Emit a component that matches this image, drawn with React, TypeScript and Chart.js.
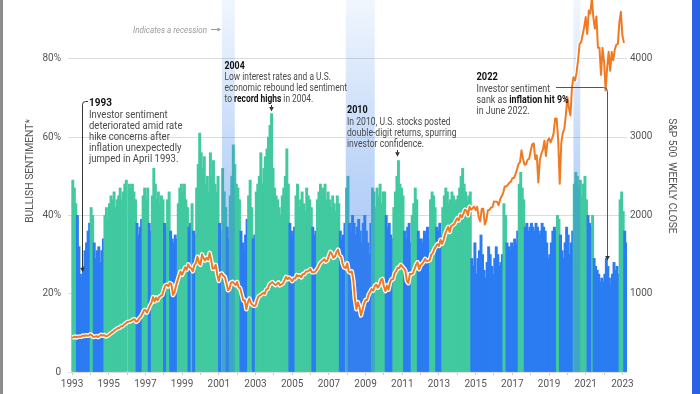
import React, { useEffect, useRef } from "react";
import { Chart, registerables } from "chart.js";

Chart.register(...registerables);

// ---------------- DATA ----------------
const FIRST_YEAR = 1993;

// x-axis tick years (labels shown on odd years only)
const yearTicks = [
  1993, 1994, 1995, 1996, 1997, 1998, 1999, 2000, 2001, 2002, 2003, 2004, 2005, 2006, 2007, 2008,
  2009, 2010, 2011, 2012, 2013, 2014, 2015, 2016, 2017, 2018, 2019, 2020, 2021, 2022, 2023,
];
const labelYears = [1993, 1995, 1997, 1999, 2001, 2003, 2005, 2007, 2009, 2011, 2013, 2015, 2017, 2019, 2021, 2023];
const sentimentTicks = [0, 20, 40, 60, 80];
const spTicks = [1000, 2000, 3000, 4000];

// Bullish sentiment (%), one value per month from Jan 1993
const bullish: (number | null)[] = [
  49, 47, 43, 40, 32, 25, 24, 27, 31, 33, 36, 38, // 1993
  42, 40, 33, 29, 31, 32, 28, 31, 34, 40, 42, 39, // 1994
  43, 45, 44, 46, 42, 44, 45, 47, 44, 46, 48, 49, // 1995
  null, 48, 47, 48, 46, 44, 38, 35, 37, 39, 45, 47, // 1996
  44, 47, 38, 36, 45, 52, 48, 44, 46, 43, 45, 44, // 1997
  38, 37, 44, 46, 36, 34, 33, 35, 34, 43, 47, 48, // 1998
  46, 48, 44, 42, 37, 38, 43, 36, 35, 47, 53, 61, // 1999
  56, 52, 55, 48, 50, 46, 56, 50, 54, 48, 46, 50, // 2000
  38, 36, 52, 46, 42, 37, 34, 45, 50, 58, 53, 48, // 2001
  47, 44, 36, 33, 31, 35, 39, 45, 49, 42, 34, 35, // 2002
  46, 48, 50, 56, 48, 52, 55, 57, 60, 63, 66, 52, // 2003
  47, 45, 44, 42, 40, 45, 47, 50, 57, 48, 38, 36, // 2004
  35, 37, 45, 48, 42, 44, 46, 43, 41, 47, 45, 44, // 2005
  42, 37, 35, 36, 44, 46, 48, 45, 47, 48, 44, 46, // 2006
  44, 42, 45, 43, 41, 45, 43, 36, 34, 35, 38, 47, // 2007
  50, 38, 36, 40, 38, 35, 37, 39, 36, 33, 38, 40, // 2008
  36, 33, 30, 38, 47, 46, 42, 47, 45, 48, 43, 46, // 2009
  46, 40, 37, 38, 35, 34, 42, 46, 50, 54, 48, 47, // 2010
  45, 36, 34, 37, 38, 33, 40, 43, 47, 44, 36, 34, // 2011
  34, 33, 36, 35, 37, 34, 44, 46, 45, 42, 37, 36, // 2012
  38, 35, 42, 45, 47, 46, 43, 44, 46, 45, 43, 44, // 2013
  45, 47, 50, 52, 48, 46, 44, 45, 46, 29, 27, 33, // 2014
  25, 29, 31, 35, 30, 26, 24, 28, 32, 30, 27, 25, // 2015
  29, 32, 30, 27, 28, 30, 43, 40, 33, 32, 31, 33, // 2016
  32, 34, 33, 36, 48, 51, 47, 44, 37, 38, 36, 37, // 2017
  38, 37, 36, 38, 37, 35, 36, 38, 37, 36, 33, 29, // 2018
  30, 33, 36, 37, 36, 40, 39, 35, 31, 29, 33, 37, // 2019
  35, 30, 33, 36, 48, 51, 50, 47, 49, 45, 48, 50, // 2020
  44, 40, 38, 37, 40, 29, 27, 26, 25, 23, 24, 23, // 2021
  25, 29, 27, 24, 22, 25, 28, 26, 27, 25, 44, 46, // 2022
  41, 36, 33, // 2023
];

// G = above-average (teal), B = below-average (blue), per month
const phase = [
  "GGGBBBBBBBBB", // 1993
  "GGBBBBBBBGGG", // 1994
  "GGGGGGGGGGGG", // 1995
  "GGGGGGBBBBGG", // 1996
  "GGBBGGGGGGGG", // 1997
  "BBGGBBBBBGGG", // 1998
  "GGGGBBGBBGGG", // 1999
  "GGGGGGGGGGGG", // 2000
  "BBGGGBBGGGGG", // 2001
  "GGBBBBBGGGBB", // 2002
  "GGGGGGGGGGGG", // 2003
  "GGGGGGGGGGBB", // 2004
  "BBGGGGGGGGGG", // 2005
  "GBBBGGGGGGGG", // 2006
  "GGGGGGGBBBBG", // 2007
  "GBBBBBBBBBBB", // 2008
  "BBBBGGGGGGGG", // 2009
  "GBBBBBGGGGGG", // 2010
  "GBBBBBGGGGBB", // 2011
  "BBBBBBGGGGBB", // 2012
  "BBGGGGGGGGGG", // 2013
  "GGGGGGGGGBBB", // 2014
  "BBBBBBBBBBBB", // 2015
  "BBBBBBGGBBBB", // 2016
  "BBBBGGGGBBBB", // 2017
  "BBBBBBBBBBBB", // 2018
  "BBBBBGGBBBBB", // 2019
  "BBBBGGGGGGGG", // 2020
  "GBBBGBBBBBBB", // 2021
  "BBBBBBBBBBGG", // 2022
  "GBB", // 2023
].join("");

// S&P 500 close, read along the axis month by month from Jan 1993
const sp500Close = [
  439, 443, 452, 440, 450, 451, 448, 464, 459, 468, 462, 466,
  481, 467, 446, 451, 457, 444, 458, 475, 463, 472, 454, 459,
  470, 487, 501, 515, 533, 545, 562, 562, 584, 582, 605, 616,
  636, 640, 646, 654, 669, 671, 640, 652, 687, 705, 741,
  786, 791, 757, 801, 848, 885, 954, 899, 947, 915, 955, 970,
  980, 1049, 1102, 1112, 1091, 1134, 1121, 980, 1017, 1099, 1164, 1229,
  1280, 1238, 1286, 1335, 1302, 1373, 1329, 1320, 1283, 1363, 1389, 1469,
  1394, 1366, 1499, 1452, 1421, 1455, 1431, 1518, 1429, 1315, 1320,
  1366, 1240, 1160, 1249, 1256, 1224, 1211, 1134, 1041, 1060, 1139, 1148,
  1130, 1107, 1147, 1077, 1067, 990, 912, 916, 800, 886, 936, 880,
  856, 841, 848, 917, 964, 975, 990, 1008, 996, 1051, 1058, 1112,
  1131, 1145, 1126, 1107, 1121, 1141, 1104, 1115, 1130, 1174, 1212,
  1181, 1204, 1181, 1157, 1192, 1191, 1234, 1220, 1229, 1207, 1249, 1248,
  1280, 1281, 1295, 1311, 1270, 1270, 1277, 1304, 1336, 1378, 1401, 1418,
  1438, 1407, 1421, 1482, 1531, 1503, 1455, 1474, 1527, 1560, 1481, 1468,
  1379, 1331, 1323, 1386, 1280, 1267, 1283, 1166, 930, 800, 890,
  826, 720, 798, 873, 919, 919, 987, 1021, 1057, 1036, 1096, 1115,
  1074, 1104, 1169, 1187, 1089, 1031, 1102, 1049, 1141, 1183, 1181, 1258,
  1286, 1327, 1326, 1364, 1345, 1321, 1292, 1160, 1131, 1253, 1247, 1258,
  1312, 1366, 1398, 1310, 1362, 1379, 1407, 1441, 1412, 1416, 1426,
  1498, 1515, 1569, 1598, 1631, 1606, 1686, 1633, 1682, 1757, 1806, 1848,
  1783, 1859, 1872, 1884, 1924, 1960, 1931, 2003, 1972, 2018, 2068, 2059,
  1995, 2105, 2068, 2086, 2107, 2063, 2104, 1972, 1920, 2079, 2080,
  1880, 1932, 2060, 2065, 2097, 2099, 2174, 2171, 2168, 2126, 2199, 2239,
  2279, 2364, 2363, 2384, 2412, 2423, 2470, 2472, 2519, 2575, 2648, 2674,
  2824, 2714, 2641, 2648, 2705, 2718, 2816, 2902, 2914, 2711, 2760, 2416,
  2704, 2784, 2834, 2946, 2752, 2942, 2980, 2926, 2977, 3038, 3231,
  3226, 2954, 2400, 2912, 3044, 3100, 3271, 3500, 3363, 3270, 3622, 3756,
  3714, 3811, 3973, 4181, 4204, 4298, 4395, 4523, 4308, 4605, 4567, 4766,
  4516, 4374, 4530, 4132, 4132, 3785, 4130, 3955, 3586, 3872, 4080, 3840,
  4077, 3970, 4109, 4169, 4180, 4450, 4589, 4288, 4194,
];

// Recession periods (axis years)
const recessionStart = [2001.17, 2007.92, 2020.33];
const recessionEnd = [2001.87, 2009.5, 2020.7];

// ---------------- STYLE ----------------
const TEAL = "#41c9a0";
const BLUE = "#2b7cf2";
const ORANGE = "#f07a23";
const FONT = "Roboto";

type Part = [string, boolean];
const note1993: Part[][] = [
  [["Investor sentiment", false]],
  [["deteriorated amid rate", false]],
  [["hike concerns after", false]],
  [["inflation unexpectedly", false]],
  [["jumped in April 1993.", false]],
];
const note2004: Part[][] = [
  [["Low interest rates and a U.S.", false]],
  [["economic rebound led sentiment", false]],
  [["to ", false], ["record highs", true], [" in 2004.", false]],
];
const note2010: Part[][] = [
  [["In 2010, U.S. stocks posted", false]],
  [["double-digit returns, spurring", false]],
  [["investor confidence.", false]],
];
const note2022: Part[][] = [
  [["Investor sentiment", false]],
  [["sank as ", false], ["inflation hit 9%", true]],
  [["in June 2022.", false]],
];

function drawNote(
  ctx: CanvasRenderingContext2D,
  head: string,
  x: number,
  yHead: number,
  yBody: number,
  lines: Part[][],
  lh: number,
  sx: number
) {
  ctx.save();
  ctx.translate(x, 0);
  ctx.scale(sx, 1);
  ctx.textAlign = "left";
  ctx.textBaseline = "alphabetic";
  ctx.font = `bold 10.5px ${FONT}`;
  ctx.fillStyle = "#111";
  ctx.fillText(head, 0, yHead);
  lines.forEach((parts, i) => {
    let cx = 0;
    for (const [t, b] of parts) {
      ctx.font = `${b ? "bold " : ""}10px ${FONT}`;
      ctx.fillStyle = b ? "#111" : "#4a4a4a";
      ctx.fillText(t, cx, yBody + i * lh);
      cx += ctx.measureText(t).width;
    }
  });
  ctx.restore();
}

function arrowHead(ctx: CanvasRenderingContext2D, x: number, y: number) {
  ctx.beginPath();
  ctx.moveTo(x, y);
  ctx.lineTo(x - 2.3, y - 4.5);
  ctx.lineTo(x + 2.3, y - 4.5);
  ctx.closePath();
  ctx.fill();
}

const recessionPlugin = {
  id: "recessions",
  afterDatasetDraw(chart: any, args: any) {
    if (args.index !== 0) return;
    const { ctx, chartArea } = chart;
    const xs = chart.scales.x;
    const g = ctx.createLinearGradient(0, chartArea.top, 0, chartArea.bottom);
    g.addColorStop(0, "rgba(60,130,235,0.07)");
    g.addColorStop(0.5, "rgba(60,130,235,0.36)");
    g.addColorStop(1, "rgba(60,130,235,0.5)");
    ctx.save();
    ctx.fillStyle = g;
    recessionStart.forEach((s, i) => {
      const x1 = xs.getPixelForValue(s);
      const x2 = xs.getPixelForValue(recessionEnd[i]);
      ctx.fillRect(x1, chartArea.top, x2 - x1, chartArea.bottom - chartArea.top);
    });
    ctx.restore();
  },
};

const annotationPlugin = {
  id: "annotations",
  afterDraw(chart: any) {
    const { ctx } = chart;
    const xs = chart.scales.x;
    const ys = chart.scales.y;
    const px = (yr: number) => xs.getPixelForValue(yr);
    const py = (v: number) => ys.getPixelForValue(v);
    ctx.save();

    // axis titles
    ctx.font = `10.3px ${FONT}`;
    ctx.fillStyle = "#555";
    ctx.textAlign = "center";
    ctx.textBaseline = "middle";
    ctx.save();
    ctx.translate(30, 171);
    ctx.rotate(-Math.PI / 2);
    ctx.fillText("BULLISH SENTIMENT*", 0, 0);
    ctx.restore();
    ctx.save();
    ctx.translate(672, 176);
    ctx.rotate(Math.PI / 2);
    ctx.fillText("S&P 500  WEEKLY CLOSE", 0, 0);
    ctx.restore();

    // recession key
    ctx.save();
    ctx.translate(207, 0);
    ctx.scale(0.88, 1);
    ctx.textAlign = "right";
    ctx.textBaseline = "alphabetic";
    ctx.font = `italic 9.2px ${FONT}`;
    ctx.fillStyle = "#9a9a9a";
    ctx.fillText("Indicates a recession", 0, 32.5);
    ctx.restore();
    ctx.strokeStyle = "#9a9a9a";
    ctx.lineWidth = 1;
    ctx.beginPath();
    ctx.moveTo(211, 29.5);
    ctx.lineTo(219, 29.5);
    ctx.stroke();
    ctx.beginPath();
    ctx.moveTo(221, 29.5);
    ctx.lineTo(217.5, 27.5);
    ctx.lineTo(217.5, 31.5);
    ctx.closePath();
    ctx.fillStyle = "#9a9a9a";
    ctx.fill();

    ctx.lineWidth = 1;

    // 1993
    drawNote(ctx, "1993", 89, 106, 117.5, note1993, 11, 0.95);
    {
      const tx = Math.round(px(1993.55)) + 0.5;
      const ty = py(25.5);
      ctx.strokeStyle = "#333";
      ctx.beginPath();
      ctx.moveTo(88, 101.5);
      ctx.lineTo(tx + 3, 101.5);
      ctx.quadraticCurveTo(tx, 101.5, tx, 104.5);
      ctx.lineTo(tx, ty - 4);
      ctx.stroke();
      ctx.fillStyle = "#333";
      arrowHead(ctx, tx, ty);
    }

    // 2004
    drawNote(ctx, "2004", 224.5, 69, 79.5, note2004, 11, 0.84);
    {
      const tx = Math.round(px(2003.87)) + 0.5;
      const ty = py(66.5);
      ctx.strokeStyle = "#333";
      ctx.beginPath();
      ctx.moveTo(tx, 105);
      ctx.lineTo(tx, ty - 4);
      ctx.stroke();
      ctx.fillStyle = "#333";
      arrowHead(ctx, tx, ty);
    }

    // 2010
    drawNote(ctx, "2010", 347, 112.5, 125, note2010, 11, 0.86);
    {
      const tx = Math.round(px(2010.7)) + 0.5;
      const ty = py(55);
      ctx.strokeStyle = "#333";
      ctx.beginPath();
      ctx.moveTo(tx, 150);
      ctx.lineTo(tx, ty - 4);
      ctx.stroke();
      ctx.fillStyle = "#333";
      arrowHead(ctx, tx, ty);
    }

    // 2022
    drawNote(ctx, "2022", 476.5, 80, 91.5, note2022, 11, 0.89);
    {
      const tx = Math.round(px(2022.17)) + 0.5;
      const ty = py(28.5);
      ctx.strokeStyle = "#555";
      ctx.beginPath();
      ctx.moveTo(556, 87.5);
      ctx.lineTo(tx - 4, 87.5);
      ctx.quadraticCurveTo(tx, 87.5, tx, 91.5);
      ctx.lineTo(tx, ty - 4);
      ctx.stroke();
      ctx.fillStyle = "#333";
      arrowHead(ctx, tx, ty);
    }
    ctx.restore();
  },
};

export default function App() {
  const ref = useRef<HTMLCanvasElement | null>(null);

  useEffect(() => {
    if (!ref.current) return;
    const barData = bullish.map((v, i) => ({ x: FIRST_YEAR + (i + 0.5) / 12, y: v }));
    const barColors = bullish.map((_, i) => (phase[i] === "G" ? TEAL : BLUE));
    const lineData = sp500Close.map((v, i) => ({ x: FIRST_YEAR + i / 12, y: v }));
    const tickFont = { family: FONT, size: 10 };

    const chart = new Chart(ref.current, {
      type: "bar",
      data: {
        datasets: [
          {
            type: "bar",
            data: barData as any,
            backgroundColor: barColors,
            borderWidth: 0,
            barThickness: 2.3,
            grouped: false,
            xAxisID: "x",
            yAxisID: "y",
            order: 3,
          },
          {
            type: "line",
            data: lineData as any,
            borderColor: "#ffffff",
            borderWidth: 4.5,
            pointRadius: 0,
            tension: 0,
            borderJoinStyle: "round",
            xAxisID: "x",
            yAxisID: "y1",
            order: 2,
          },
          {
            type: "line",
            data: lineData as any,
            borderColor: ORANGE,
            borderWidth: 2,
            pointRadius: 0,
            tension: 0,
            borderJoinStyle: "round",
            xAxisID: "x",
            yAxisID: "y1",
            order: 1,
          },
        ] as any,
      },
      options: {
        responsive: false,
        animation: false,
        events: [],
        layout: { padding: 0 },
        plugins: { legend: { display: false }, tooltip: { enabled: false } },
        scales: {
          x: {
            type: "linear",
            min: 1992.78,
            max: 2023.25,
            offset: false,
            afterBuildTicks: (s: any) => {
              s.ticks = yearTicks.map((v) => ({ value: v }));
            },
            afterFit: (s: any) => {
              s.height = 22;
              s.paddingLeft = 0;
              s.paddingRight = 0;
            },
            ticks: {
              autoSkip: false,
              maxRotation: 0,
              color: "#555",
              font: tickFont,
              padding: 3,
              callback: (v: any) => (labelYears.includes(Number(v)) ? String(v) : ""),
            },
            grid: { drawOnChartArea: false, drawTicks: true, tickLength: 3, color: "#c8c8c8", offset: false },
            border: { display: false },
          },
          y: {
            position: "left",
            min: 0,
            max: 95,
            afterBuildTicks: (s: any) => {
              s.ticks = sentimentTicks.map((v) => ({ value: v }));
            },
            afterFit: (s: any) => {
              s.width = 68;
              s.paddingTop = 0;
              s.paddingBottom = 0;
            },
            ticks: {
              color: "#555",
              font: tickFont,
              padding: 7,
              callback: (v: any) => (Number(v) === 0 ? "0" : `${v}%`),
            },
            grid: { color: "#dcdcdc", drawTicks: false },
            border: { display: false },
          },
          y1: {
            position: "right",
            min: 0,
            max: 4740,
            afterBuildTicks: (s: any) => {
              s.ticks = spTicks.map((v) => ({ value: v }));
            },
            afterFit: (s: any) => {
              s.width = 73;
              s.paddingTop = 0;
              s.paddingBottom = 0;
            },
            ticks: { color: "#555", font: tickFont, padding: 3, callback: (v: any) => String(v) },
            grid: { drawOnChartArea: false, drawTicks: false },
            border: { display: false },
          },
        },
      } as any,
      plugins: [recessionPlugin, annotationPlugin],
    });
    return () => chart.destroy();
  }, []);

  return (
    <div style={{ position: "fixed", left: 0, top: 0, width: 700, height: 394, background: "#fff", overflow: "hidden" }}>
      <canvas ref={ref} width={700} height={394} style={{ display: "block", width: 700, height: 394 }} />
      <div style={{ position: "absolute", left: 0, top: 0, width: 3, height: 394, background: "#8c8c8c" }} />
      <div style={{ position: "absolute", left: 692, top: 0, width: 8, height: 394, background: "#2c5fe4" }} />
    </div>
  );
}
